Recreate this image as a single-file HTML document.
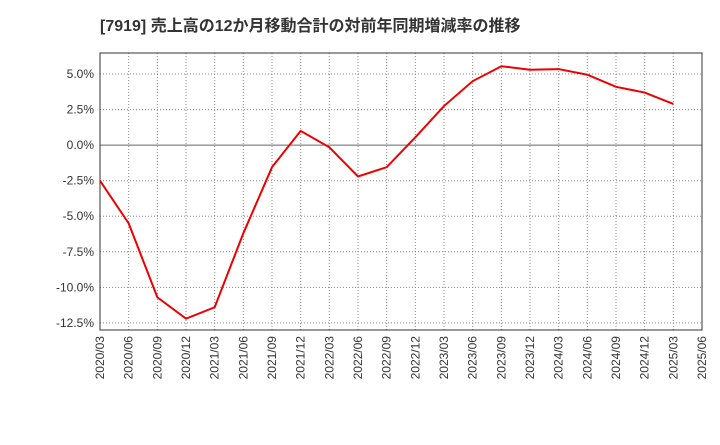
<!DOCTYPE html>
<html><head><meta charset="utf-8"><style>
body{margin:0;background:#fff;font-family:"Liberation Sans","Noto Sans CJK JP",sans-serif;}
</style></head><body>
<svg id="chart" width="720" height="440" xmlns="http://www.w3.org/2000/svg">
<text x="100" y="31" font-size="16" font-weight="bold" fill="#333" font-family="Liberation Sans, Noto Sans CJK JP, sans-serif">[7919]  売上高の12か月移動合計の対前年同期増減率の推移</text>
<g id="grid"></g><g id="axes"></g><g id="series"></g>
</svg>
<script>
const categories=["2020/03","2020/06","2020/09","2020/12","2021/03","2021/06","2021/09","2021/12","2022/03","2022/06","2022/09","2022/12","2023/03","2023/06","2023/09","2023/12","2024/03","2024/06","2024/09","2024/12","2025/03","2025/06"];
const values=[-2.5,-5.5,-10.7,-12.2,-11.4,-6.2,-1.55,1.0,-0.15,-2.2,-1.55,0.55,2.75,4.5,5.55,5.3,5.35,4.95,4.1,3.7,2.9];
const yTicks=[5,2.5,0,-2.5,-5,-7.5,-10,-12.5];
const yTickLabels=["5.0%","2.5%","0.0%","-2.5%","-5.0%","-7.5%","-10.0%","-12.5%"];
const L=100,R=702,T=53,B=330,yMax=6.48,yMin=-13.0;
const ns="http://www.w3.org/2000/svg";
const x=i=>L+(R-L)*i/(categories.length-1);
const y=v=>T+(yMax-v)/(yMax-yMin)*(B-T);
function mk(tag,attrs,parent){const e=document.createElementNS(ns,tag);for(const k in attrs)e.setAttribute(k,attrs[k]);document.getElementById(parent).appendChild(e);return e;}
categories.forEach((c,i)=>{
 const l=mk("line",{x1:x(i),x2:x(i),y1:T,y2:B,stroke:"#888","stroke-dasharray":"1,2","stroke-width":1},"grid");
 
 
 const t=mk("text",{x:0,y:0,"font-size":12,fill:"#333","text-anchor":"end",transform:`translate(${x(i)+4},${B+6}) rotate(-90)`},"axes");
 t.textContent=c;
 
 
});
yTicks.forEach((v,i)=>{
 const l=mk("line",{x1:L,x2:R,y1:y(v),y2:y(v),stroke:v===0?"#666":"#888","stroke-dasharray":v===0?"none":"1,2","stroke-width":1},"grid");
 
 
 const t=mk("text",{x:L-6,y:y(v)+4,"font-size":12,fill:"#333","text-anchor":"end"},"axes");
 t.textContent=yTickLabels[i];
 
 
});
const frame=mk("rect",{x:L,y:T,width:R-L,height:B-T,fill:"none",stroke:"#333","stroke-width":1},"axes");


const line=mk("polyline",{points:values.map((v,i)=>x(i)+","+y(v)).join(" "),fill:"none",stroke:"#ee0000","stroke-width":2},"series");


</script>
</body></html>
